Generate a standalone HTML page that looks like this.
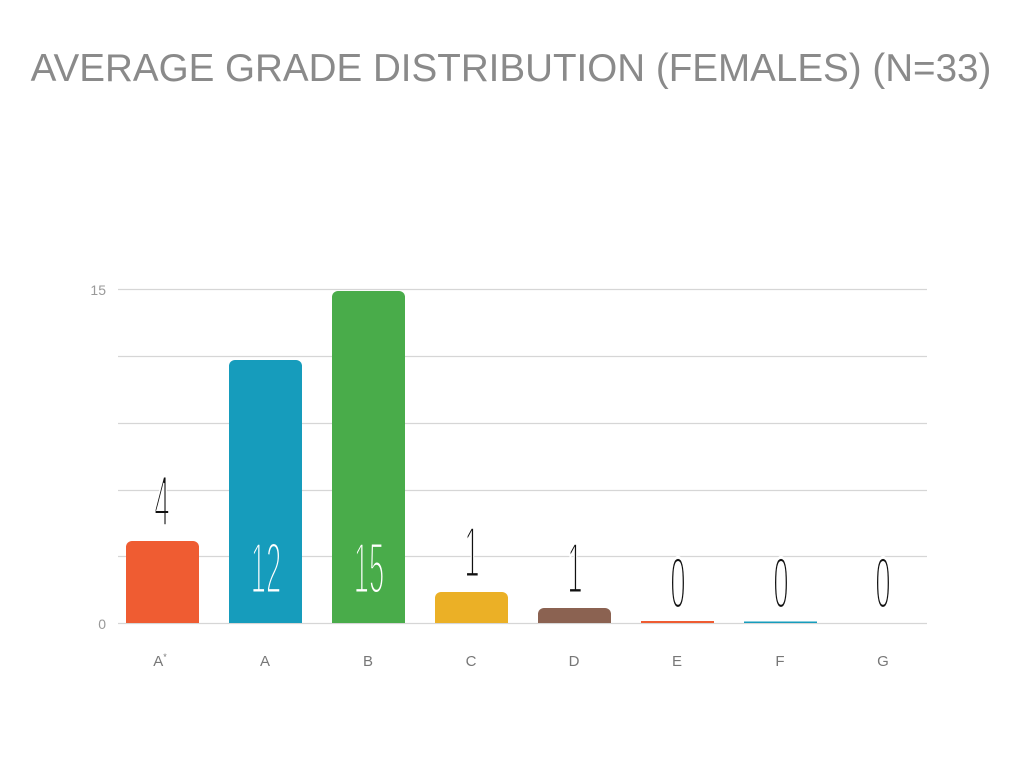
<!DOCTYPE html>
<html><head><style>
html,body{margin:0;padding:0;background:#fff;width:1024px;height:768px;overflow:hidden}
text{font-family:"Liberation Sans",sans-serif}
.n{font-family:"Liberation Sans",Arial,sans-serif;font-weight:normal}
</style></head><body>
<svg width="1024" height="768" xmlns="http://www.w3.org/2000/svg">
<text x="511" y="81" text-anchor="middle" font-size="38.6" fill="#8a8a8a">AVERAGE GRADE DISTRIBUTION (FEMALES) (N=33)</text>
<g stroke="#d6d6d6" stroke-width="1.2">
<line x1="118" y1="289.5" x2="927" y2="289.5"/>
<line x1="118" y1="356.5" x2="927" y2="356.5"/>
<line x1="118" y1="423.5" x2="927" y2="423.5"/>
<line x1="118" y1="490.5" x2="927" y2="490.5"/>
<line x1="118" y1="556.5" x2="927" y2="556.5"/>
<line x1="118" y1="623.5" x2="927" y2="623.5"/>
</g>
<text x="106" y="295" text-anchor="end" font-size="14" fill="#999">15</text>
<text x="106" y="629" text-anchor="end" font-size="14" fill="#999">0</text>
<path d="M126 623V547a6 6 0 0 1 6-6h61a6 6 0 0 1 6 6V623Z" fill="#ef5c32"/>
<path d="M229 623V366a6 6 0 0 1 6-6h61a6 6 0 0 1 6 6V623Z" fill="#169cbc"/>
<path d="M332 623V297a6 6 0 0 1 6-6h61a6 6 0 0 1 6 6V623Z" fill="#49ac4a"/>
<path d="M435 623V598a6 6 0 0 1 6-6h61a6 6 0 0 1 6 6V623Z" fill="#ebb026"/>
<path d="M538 623V614a6 6 0 0 1 6-6h61a6 6 0 0 1 6 6V623Z" fill="#8b6251"/>
<rect x="641" y="621" width="73" height="2" fill="#ef5c32"/>
<rect x="744" y="621.5" width="73" height="1.5" fill="#169cbc"/>
<g font-size="72" text-anchor="middle">
<text class="n" transform="translate(162,526) scale(0.38,1)" fill="#111" stroke="#fff" stroke-width="3">4</text>
<text class="n" transform="translate(266,593) scale(0.38,1)" fill="#fff" stroke="#169cbc" stroke-width="3">12</text>
<text class="n" transform="translate(369,593) scale(0.38,1)" fill="#fff" stroke="#49ac4a" stroke-width="3">15</text>
<text class="n" transform="translate(472,577) scale(0.38,1)" fill="#111" stroke="#fff" stroke-width="3">1</text>
<text class="n" transform="translate(575,593) scale(0.38,1)" fill="#111" stroke="#fff" stroke-width="3">1</text>
<text class="n" transform="translate(678,608) scale(0.38,1)" fill="#111" stroke="#fff" stroke-width="3">0</text>
<text class="n" transform="translate(781,608) scale(0.38,1)" fill="#111" stroke="#fff" stroke-width="3">0</text>
<text class="n" transform="translate(883,608) scale(0.38,1)" fill="#111" stroke="#fff" stroke-width="3">0</text>
</g>
<g font-size="15" fill="#777" text-anchor="middle">
<text x="160" y="666">A<tspan font-size="9" dy="-6">*</tspan></text>
<text x="265" y="666">A</text>
<text x="368" y="666">B</text>
<text x="471" y="666">C</text>
<text x="574" y="666">D</text>
<text x="677" y="666">E</text>
<text x="780" y="666">F</text>
<text x="883" y="666">G</text>
</g>
</svg>
</body></html>
